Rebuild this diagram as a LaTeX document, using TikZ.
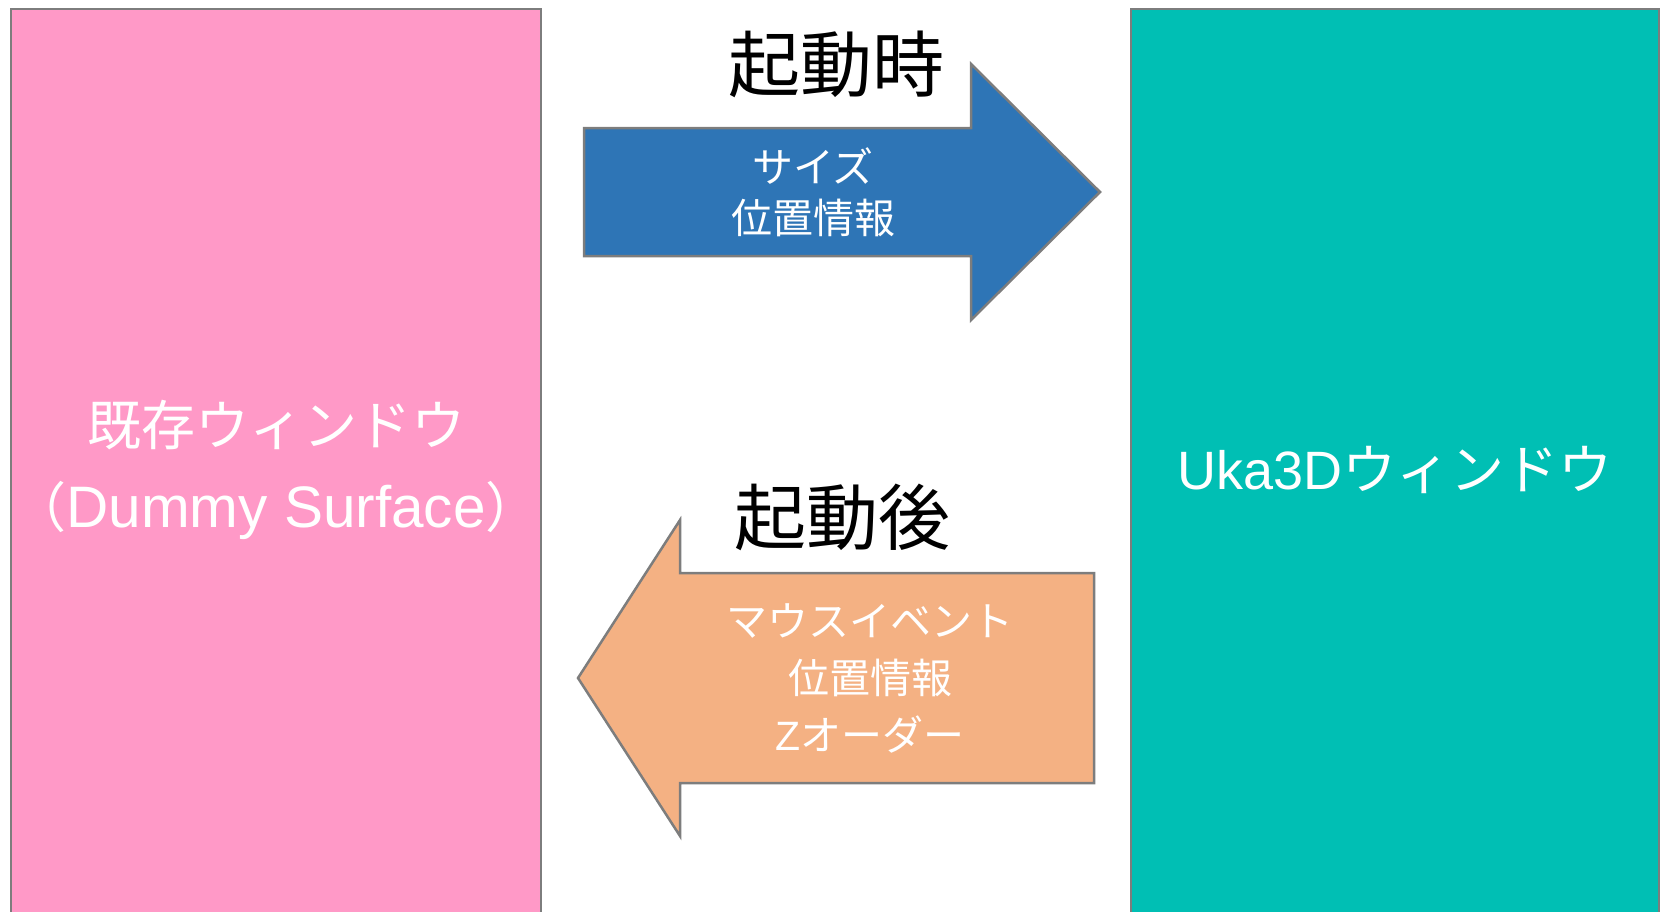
\documentclass[tikz,border=0pt]{standalone}
\usepackage{fontspec}
\setmainfont{Noto Sans CJK JP}
\newfontfamily\latin{Liberation Sans}
\usetikzlibrary{positioning}
\definecolor{pinkwin}{RGB}{255,153,199}
\definecolor{tealwin}{RGB}{0,191,180}
\definecolor{bluearr}{RGB}{46,117,182}
\definecolor{orangearr}{RGB}{244,177,131}
\definecolor{edgegray}{RGB}{125,125,125}

\begin{document}
\begin{tikzpicture}[x=1pt, y=-1pt,
win/.style={draw=edgegray, line width=2.5pt, minimum width=530, minimum height=921, text=white, align=center, font=\fontsize{54}{82}\selectfont, inner sep=0},
blk/.style={draw=edgegray, line width=2.5pt, line join=miter},
lbl/.style={text=white, align=center, font=\fontsize{41}{51}\selectfont, inner sep=0},
ttl/.style={font=\fontsize{72}{86}\selectfont, inner sep=0}
]
\useasboundingbox (0,0) rectangle (1661,911);
\node[win, fill=pinkwin] (dummy) at (276,469.5) {既存ウィンドウ\\（{\latin\fontsize{58.5}{82}\selectfont Dummy Surface}）};
\node[win, fill=tealwin, minimum width=528] (uka) at (1395,469.5) {{\latin Uka3D}ウィンドウ};

\draw[blk, fill=bluearr] (584,128) -- (971,128) -- (971,64) -- (1100,192) -- (971,320) -- (971,256) -- (584,256) -- cycle;
\draw[blk, fill=orangearr] (1094,573) -- (680,573) -- (680,520) -- (578,678) -- (680,836) -- (680,783) -- (1094,783) -- cycle;

\node[ttl] (start) at (836,64) {起動時};
\node[ttl] (after) at (842,517) {起動後};
\node[lbl] (sizeinfo) at (813,192) {サイズ\\位置情報};
\node[lbl, font=\fontsize{41}{57}\selectfont] (mouseinfo) at (870,678) {マウスイベント\\位置情報\\{\latin Z}オーダー};
\end{tikzpicture}
\end{document}
